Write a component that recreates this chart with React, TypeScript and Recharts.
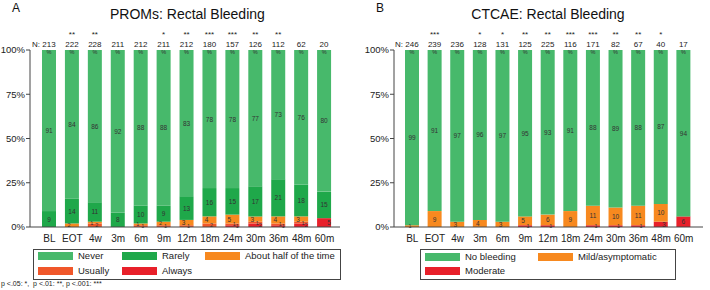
import React from 'react';
import { BarChart, Bar, XAxis, YAxis, LabelList } from 'recharts';

const CATEGORIES = ['BL', 'EOT', '4w', '3m', '6m', '9m', '12m', '18m', '24m', '30m', '36m', '48m', '60m'];
const Y_TICKS = [0, 25, 50, 75, 100];

// Panel A: PROMs
const PROMS_N = [213, 222, 228, 211, 212, 211, 212, 180, 157, 126, 112, 62, 20];
const PROMS_STARS = ['', '**', '**', '', '', '*', '**', '***', '***', '**', '**', '', ''];
const PROMS_NEVER = [91, 84, 86, 92, 88, 88, 83, 78, 78, 77, 73, 76, 80];
const PROMS_RARELY = [9, 14, 11, 8, 10, 9, 13, 16, 15, 17, 21, 18, 15];
const PROMS_HALF = [0, 2, 1, 0, 1, 2, 3, 4, 5, 3, 4, 3, 0];
const PROMS_USUALLY = [0, 0, 2, 0, 1, 1, 1, 2, 1, 1, 1, 1, 0];
const PROMS_ALWAYS = [0, 0, 0, 0, 0, 0, 0, 0, 1, 2, 1, 2, 5];

// Panel B: CTCAE
const CTCAE_N = [246, 239, 236, 128, 131, 125, 225, 116, 171, 82, 67, 40, 17];
const CTCAE_STARS = ['', '***', '', '*', '*', '**', '**', '***', '***', '**', '**', '*', ''];
const CTCAE_NONE = [99, 91, 97, 96, 97, 95, 93, 91, 88, 89, 88, 87, 94];
const CTCAE_MILD = [1, 9, 3, 4, 3, 5, 6, 9, 11, 10, 11, 10, 0];
const CTCAE_MODERATE = [0, 0, 0, 0, 0, 1, 1, 0, 1, 1, 1, 3, 6];

const FONT = '"Liberation Sans", Arial, Helvetica, sans-serif';
const LIGHT_GREEN = '#47b96b';
const DARK_GREEN = '#1fa84a';
const ORANGE = '#f7891f';
const RED_ORANGE = '#f0572a';
const RED = '#e8202a';

const promsData = CATEGORIES.map((cat, i) => ({
  cat,
  always: PROMS_ALWAYS[i],
  usually: PROMS_USUALLY[i],
  half: PROMS_HALF[i],
  rarely: PROMS_RARELY[i],
  never: PROMS_NEVER[i],
}));

const ctcaeData = CATEGORIES.map((cat, i) => ({
  cat,
  moderate: CTCAE_MODERATE[i],
  mild: CTCAE_MILD[i],
  none: CTCAE_NONE[i],
}));

type Series = { key: string; color: string; dx: number };

const promsSeries: Series[] = [
  { key: 'always', color: RED, dx: 5 },
  { key: 'usually', color: RED_ORANGE, dx: 2 },
  { key: 'half', color: ORANGE, dx: -3 },
  { key: 'rarely', color: DARK_GREEN, dx: 0 },
  { key: 'never', color: LIGHT_GREEN, dx: 0 },
];

const ctcaeSeries: Series[] = [
  { key: 'moderate', color: RED, dx: 3 },
  { key: 'mild', color: ORANGE, dx: -2 },
  { key: 'none', color: LIGHT_GREEN, dx: 0 },
];

const valueLabel = (dx: number) => (p: any) => {
  const v = Number(p.value);
  if (!v) return null;
  const x = Number(p.x) + Number(p.width) / 2 + (v < 6 ? dx : 0);
  const y = Number(p.y) + Number(p.height) / 2;
  return (
    <text x={x} y={y} textAnchor="middle" dominantBaseline="central" fontSize={v < 3 ? 5.5 : 6.5} fill="#333" fontFamily={FONT}>
      {v}
    </text>
  );
};

const topLabel = (n: number[], stars: string[]) => (p: any) => {
  const i = p.index;
  const cx = Number(p.x) + Number(p.width) / 2;
  const top = 50;
  return (
    <g fontFamily={FONT}>
      <text x={cx} y={top + 4} textAnchor="middle" fontSize={5.5} fill="#333">%</text>
      <text x={cx} y={top - 3} textAnchor="middle" fontSize={8} fill="#222">{n[i]}</text>
      {i === 0 && (
        <text x={cx - 9} y={top - 3} textAnchor="end" fontSize={8} fill="#222">N:</text>
      )}
      {stars[i] && (
        <text x={cx} y={top - 13} textAnchor="middle" fontSize={8} fill="#222">{stars[i]}</text>
      )}
    </g>
  );
};

type PanelProps = {
  data: any[];
  series: Series[];
  n: number[];
  stars: string[];
  width: number;
  yWidth: number;
  marginRight: number;
  padLeft: number;
  padRight: number;
};

const Panel = ({ data, series, n, stars, width, yWidth, marginRight, padLeft, padRight }: PanelProps) => (
  <BarChart width={width} height={250} data={data} margin={{ top: 50, right: marginRight, bottom: 3, left: 0 }}>
    <XAxis
      dataKey="cat"
      tickLine={false}
      axisLine={{ stroke: '#444' }}
      padding={{ left: padLeft, right: padRight }}
      tick={{ fontSize: 10, fill: '#222', fontFamily: FONT }}
      interval={0}
      height={20}
    />
    <YAxis
      width={yWidth}
      domain={[0, 100]}
      ticks={Y_TICKS}
      allowDataOverflow
      tickFormatter={(v) => `${v}%`}
      tickSize={4}
      tickMargin={1}
      tickLine={{ stroke: '#444' }}
      axisLine={{ stroke: '#444' }}
      tick={{ fontSize: 9.5, fill: '#222', fontFamily: FONT }}
    />
    {series.map((s, idx) => (
      <Bar key={s.key} dataKey={s.key} stackId="a" fill={s.color} barSize={14} isAnimationActive={false}>
        <LabelList dataKey={s.key} content={valueLabel(s.dx)} />
        {idx === series.length - 1 && <LabelList dataKey={s.key} content={topLabel(n, stars)} />}
      </Bar>
    ))}
  </BarChart>
);

const Swatch = ({ color, label, x, y }: { color: string; label: string; x: number; y: number }) => (
  <>
    <div style={{ position: 'absolute', left: x, top: y - 4, width: 35, height: 8, background: color }} />
    <div style={{ position: 'absolute', left: x + 40, top: y - 7, fontSize: 9.5, lineHeight: '13px', color: '#222', whiteSpace: 'nowrap' }}>
      {label}
    </div>
  </>
);

export default function App() {
  return (
    <div style={{ position: 'absolute', left: 0, top: 0, width: 710, height: 290, background: '#fff', fontFamily: FONT, overflow: 'hidden' }}>
      <div style={{ position: 'absolute', left: 0, top: 0 }}>
        <Panel data={promsData} series={promsSeries} n={PROMS_N} stars={PROMS_STARS} width={345} yWidth={30} marginRight={5} padLeft={8} padRight={4} />
      </div>
      <div style={{ position: 'absolute', left: 355, top: 0 }}>
        <Panel data={ctcaeData} series={ctcaeSeries} n={CTCAE_N} stars={CTCAE_STARS} width={355} yWidth={39} marginRight={7} padLeft={7} padRight={8} />
      </div>

      <div style={{ position: 'absolute', left: 12, top: 2, fontSize: 12, lineHeight: '13px', color: '#111' }}>A</div>
      <div style={{ position: 'absolute', left: 110, top: 6, width: 154, textAlign: 'center', fontSize: 14, lineHeight: '16px', color: '#111', whiteSpace: 'nowrap' }}>
        PROMs: Rectal Bleeding
      </div>
      <div style={{ position: 'absolute', left: 376, top: 2, fontSize: 12, lineHeight: '13px', color: '#111' }}>B</div>
      <div style={{ position: 'absolute', left: 470, top: 6, width: 156, textAlign: 'center', fontSize: 14, lineHeight: '16px', color: '#111', whiteSpace: 'nowrap' }}>
        CTCAE: Rectal Bleeding
      </div>

      <div style={{ position: 'absolute', left: 33, top: 249, width: 306, height: 29, border: '1px solid #444' }} />
      <Swatch color={LIGHT_GREEN} label="Never" x={38} y={256} />
      <Swatch color={DARK_GREEN} label="Rarely" x={122} y={256} />
      <Swatch color={ORANGE} label="About half of the time" x={205} y={256} />
      <Swatch color={RED_ORANGE} label="Usually" x={38} y={271} />
      <Swatch color={RED} label="Always" x={122} y={271} />

      <div style={{ position: 'absolute', left: 420, top: 249, width: 254, height: 29, border: '1px solid #444' }} />
      <Swatch color={LIGHT_GREEN} label="No bleeding" x={425} y={257} />
      <Swatch color={ORANGE} label="Mild/asymptomatic" x={538} y={257} />
      <Swatch color={RED} label="Moderate" x={425} y={271} />

      <div style={{ position: 'absolute', left: 1, top: 279, fontSize: 7, lineHeight: '9px', color: '#222', whiteSpace: 'nowrap' }}>
        p &lt;.05: *,&nbsp; p &lt;.01: **, p &lt;.001: ***
      </div>
    </div>
  );
}
